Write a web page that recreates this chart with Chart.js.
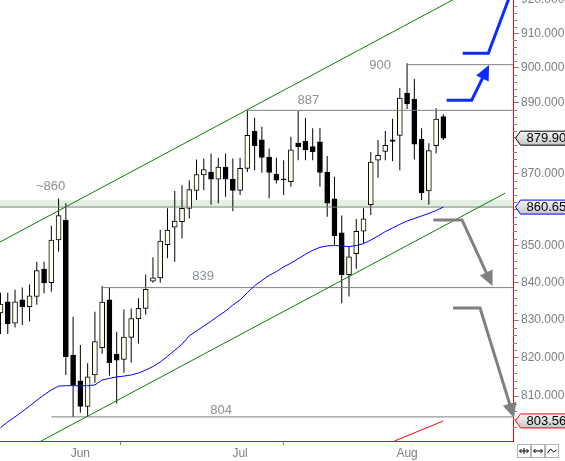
<!DOCTYPE html>
<html>
<head>
<meta charset="utf-8">
<script src="https://cdn.jsdelivr.net/npm/chart.js@4.4.1/dist/chart.umd.min.js"></script>
<style>
  html, body { margin: 0; padding: 0; background: #fff; }
  #wrap { width: 565px; height: 461px; }
</style>
</head>
<body>
<div id="wrap"><canvas id="chart" width="565" height="461"></canvas></div>
<script>
// daily candles (one per trading day)
const open = [831.9, 834.9, 829.2, 835.4, 833.6, 836.3, 843.6, 840.0, 851.6, 857.1,
              820.7, 814.0, 807.3, 815.5, 822.7, 835.4, 820.9, 819.6, 825.4, 830.4,
              833.1, 840.4, 841.3, 850.3, 855.1, 856.6, 860.3, 865.3, 869.6, 870.4,
              868.4, 871.8, 868.4, 865.3, 871.4, 881.8, 879.4, 874.6, 869.8, 868.5,
              867.7, 878.5, 879.1, 877.5, 878.9, 870.3, 862.9, 853.6, 842.2, 847.9,
              854.0, 861.3, 873.7, 876.2, 879.4, 880.7, 892.7, 891.0, 879.6, 865.1,
              877.8, 886.0];
const high = [837.3, 837.3, 838.1, 838.7, 839.5, 845.7, 845.7, 855.5, 863.0, 861.7,
              830.9, 823.4, 818.6, 832.2, 839.1, 838.7, 826.9, 832.8, 833.1, 835.8,
              842.2, 846.9, 854.4, 860.3, 865.1, 866.7, 868.1, 873.9, 874.2, 875.6,
              874.4, 875.6, 874.2, 874.4, 887.8, 885.7, 883.1, 877.0, 874.4, 873.7,
              880.3, 887.6, 885.6, 882.7, 882.8, 874.9, 869.1, 858.3, 849.8, 857.4,
              860.3, 876.0, 879.4, 881.9, 885.4, 894.2, 901.3, 896.8, 882.7, 878.5,
              888.4, 886.7];
const low = [826.3, 826.3, 828.0, 828.7, 829.6, 834.1, 837.2, 837.6, 848.4, 815.5,
             804.6, 805.7, 804.6, 813.5, 821.1, 815.3, 808.1, 816.1, 818.7, 823.8,
             831.4, 840.0, 840.0, 846.6, 845.7, 852.0, 857.5, 862.6, 865.3, 861.3,
             861.7, 863.5, 859.5, 864.0, 870.4, 870.9, 870.2, 863.1, 867.2, 864.0,
             866.3, 873.7, 873.7, 873.7, 866.3, 858.0, 850.3, 834.5, 836.3, 843.8,
             850.7, 858.5, 868.8, 873.7, 873.4, 870.9, 888.2, 873.9, 862.6, 861.3,
             875.6, 879.4];
const close = [834.3, 829.0, 834.9, 833.6, 836.5, 843.3, 840.0, 851.6, 858.3, 820.3,
               812.9, 807.3, 815.0, 824.3, 834.8, 818.7, 819.4, 825.5, 830.4, 833.1,
               838.2, 841.3, 851.3, 854.3, 856.8, 860.3, 865.5, 869.7, 871.1, 868.4,
               871.8, 868.4, 865.3, 871.4, 880.7, 877.8, 874.5, 870.3, 868.1, 868.2,
               876.6, 877.5, 876.6, 876.1, 870.3, 861.7, 852.8, 842.2, 847.0, 854.0,
               857.4, 873.2, 875.1, 877.9, 879.0, 891.3, 889.6, 878.2, 864.6, 876.4,
               885.3, 879.9];
// moving average (blue)
const ma = [801.8, 803.3, 804.6, 806.0, 807.4, 808.9, 810.3, 811.6, 812.6, 812.7,
            812.7, 812.7, 812.7, 812.9, 814.2, 814.6, 815.0, 815.2, 815.5, 816.0,
            816.8, 817.7, 818.9, 820.4, 822.0, 823.6, 825.8, 827.1, 828.4, 829.7,
            831.1, 832.4, 834.0, 835.4, 837.3, 839.2, 840.6, 842.0, 843.0, 844.3,
            845.3, 846.5, 847.7, 848.8, 849.6, 850.0, 850.1, 850.0, 849.8, 850.1,
            850.6, 851.6, 852.7, 853.9, 854.9, 855.9, 856.8, 857.5, 858.2, 858.9,
            859.7, 860.65];

const monthLabels = ['Jun', 'Jul', 'Aug'];
const monthStarts = [1, 22, 45];
const monthLabelAt = [11, 33, 56];
const priceTicks = [810, 820, 830, 840, 850, 860, 870, 880, 890, 900, 910, 920];

// horizontal levels and their notes
const levels = [900.9, 887.8, 860.65, 838.7, 804.6];
const levelFrom = [56, 34, -1, 14, 7];
const levelTexts = ['900', '887', '~860', '839', '804'];
const levelTextX = [52.3, 42.4, 6.9, 27.9, 30.4];
const levelTextY = [900.8, 890.7, 866.3, 841.8, 806.2];
const zoneTop = 862.6;

// trend channel and other drawn lines, [day, price]
const channelUpper = [[-0.5, 850.6], [64, 921.8]];
const channelLower = [[5, 797.8], [69.5, 864.5]];
const redLine = [[53.5, 797.8], [61, 803.56]];
const arrowPaths = [
  [[63.66, 904.2], [67.19, 904.2], [70.45, 922.7]],
  [[61.46, 890.7], [64.9, 890.7], [67.29, 900.8]],
  [[59.61, 857.1], [63.57, 857.1], [67.77, 839.1]],
  [[62.33, 833.2], [66.05, 833.2], [70.73, 804.3]]
];

const xMin = -0.069, xMax = 70.59;
const yMin = 798.4, yMax = 919.8;

Chart.defaults.font.family = '"Liberation Sans", Arial, sans-serif';

const days = open.map((_, i) => i);
const wicks = days.map(i => ({x: i, y: [low[i], high[i]]}));
const bodies = days.map(i => ({x: i, y: [Math.min(open[i], close[i]), Math.max(open[i], close[i])]}));
const bodyColors = days.map(i => close[i] >= open[i] ? '#ffffee' : '#000000');
const pts = arr => arr.map(p => ({x: p[0], y: p[1]}));

const lineDs = (data, color, width, order) => ({
  type: 'line', data: data, borderColor: color, borderWidth: width,
  pointRadius: 0, fill: false, tension: 0, order: order
});

const datasets = [
  {
    type: 'line', data: [{x: xMin, y: zoneTop}, {x: xMax, y: zoneTop}],
    borderWidth: 0, pointRadius: 0, fill: {value: levels[2]},
    backgroundColor: '#e3efe0', order: 10
  },
  {
    type: 'bar', data: wicks, backgroundColor: '#000', borderWidth: 0,
    barThickness: 1, grouped: false, inflateAmount: 0, order: 9
  },
  {
    type: 'bar', data: bodies, backgroundColor: bodyColors, borderColor: '#000',
    borderWidth: 1, borderSkipped: false, barThickness: 5, grouped: false, order: 8
  }
];
levels.forEach((v, i) => {
  datasets.push(lineDs([{x: levelFrom[i], y: v}, {x: xMax, y: v}], '#808080', 1, 5));
});
datasets.push(lineDs(days.map(i => ({x: i, y: ma[i]})), '#0000ff', 1, 4));
datasets.push(lineDs(pts(channelUpper), '#0c7d0c', 1, 3));
datasets.push(lineDs(pts(channelLower), '#0c7d0c', 1, 3));
datasets.push(lineDs(pts(redLine), '#ff0000', 1, 3));

function drawArrow(ctx, p, color, head) {
  const n = p.length;
  const end = p[n - 1];
  const dx = end[0] - p[n - 2][0], dy = end[1] - p[n - 2][1];
  const len = Math.hypot(dx, dy), ux = dx / len, uy = dy / len;
  const L = 15, W = 7;
  ctx.strokeStyle = color;
  ctx.fillStyle = color;
  ctx.lineWidth = 3;
  ctx.beginPath();
  ctx.moveTo(p[0][0], p[0][1]);
  for (let i = 1; i < n - 1; i++) ctx.lineTo(p[i][0], p[i][1]);
  if (head) ctx.lineTo(end[0] - ux * (L - 2), end[1] - uy * (L - 2));
  else ctx.lineTo(end[0], end[1]);
  ctx.stroke();
  if (head) {
    const bx = end[0] - ux * L, by = end[1] - uy * L;
    ctx.beginPath();
    ctx.moveTo(end[0], end[1]);
    ctx.lineTo(bx - uy * W, by + ux * W);
    ctx.lineTo(bx + uy * W, by - ux * W);
    ctx.closePath();
    ctx.fill();
  }
}

function drawTag(ctx, left, yPix, text, border) {
  const h = 7;
  ctx.beginPath();
  ctx.moveTo(left, yPix);
  ctx.lineTo(left + 5, yPix - h);
  ctx.lineTo(570, yPix - h);
  ctx.lineTo(570, yPix + h);
  ctx.lineTo(left + 5, yPix + h);
  ctx.closePath();
  const g = ctx.createLinearGradient(0, yPix - h, 0, yPix + h);
  g.addColorStop(0, '#f6f6f6');
  g.addColorStop(1, '#c6c6c6');
  ctx.fillStyle = g;
  ctx.fill();
  ctx.lineWidth = 1;
  ctx.strokeStyle = border;
  ctx.stroke();
  ctx.fillStyle = '#000';
  ctx.font = '13px "Liberation Sans", Arial, sans-serif';
  ctx.textAlign = 'left';
  ctx.textBaseline = 'middle';
  ctx.fillText(text, left + 11, yPix + 0.5);
}

const overlay = {
  id: 'overlay',
  afterDatasetsDraw(chart) {
    const {ctx, chartArea: a, scales: {x, y}} = chart;
    ctx.save();
    ctx.font = '13px "Liberation Sans", Arial, sans-serif';
    ctx.fillStyle = '#8a9099';
    ctx.textAlign = 'center';
    ctx.textBaseline = 'middle';
    levelTexts.forEach((t, i) => {
      ctx.fillText(t, x.getPixelForValue(levelTextX[i]), y.getPixelForValue(levelTextY[i]));
    });
    ctx.beginPath();
    ctx.rect(a.left, a.top, a.right - a.left + 3, a.bottom - a.top);
    ctx.clip();
    const colors = ['#0a2cff', '#0a2cff', '#808080', '#808080'];
    const heads = [false, true, true, true];
    arrowPaths.forEach((path, k) => {
      const p = path.map(q => [x.getPixelForValue(q[0]), y.getPixelForValue(q[1])]);
      drawArrow(ctx, p, colors[k], heads[k]);
    });
    ctx.restore();
  },
  afterDraw(chart) {
    const {ctx, chartArea: a, scales: {y}} = chart;
    ctx.save();
    // minor ticks on the price axis
    ctx.strokeStyle = '#808080';
    ctx.lineWidth = 1;
    for (let v = 800; v <= 920; v += 2) {
      if (v % 10 === 0) continue;
      const py = Math.round(y.getPixelForValue(v)) + 0.5;
      if (py < a.top || py > a.bottom) continue;
      ctx.beginPath();
      ctx.moveTo(a.right, py);
      ctx.lineTo(a.right + 4, py);
      ctx.stroke();
    }
    const last = close.length - 1;
    drawTag(ctx, a.right + 2.5, y.getPixelForValue(close[last]), close[last].toFixed(2), '#000000');
    drawTag(ctx, a.right + 2.5, y.getPixelForValue(ma[last]), ma[last].toFixed(2), '#0000ff');
    const r = redLine[redLine.length - 1][1];
    drawTag(ctx, a.right + 2.5, y.getPixelForValue(r), r.toFixed(2), '#ff0000');

    // little buttons under the price axis
    for (let k = 0; k < 3; k++) {
      const bx = a.right + 4.5 + k * 14, by = a.bottom + 3.5;
      ctx.strokeStyle = '#b4b4b4';
      ctx.fillStyle = '#ffffff';
      ctx.fillRect(bx, by, 13, 13);
      ctx.strokeRect(bx, by, 13, 13);
      ctx.strokeStyle = '#000';
      ctx.beginPath();
      const cy = by + 6.5;
      if (k < 2) {
        ctx.moveTo(bx + 2, cy); ctx.lineTo(bx + 11, cy);
        ctx.moveTo(bx + 4, cy - 2); ctx.lineTo(bx + 2, cy); ctx.lineTo(bx + 4, cy + 2);
        ctx.moveTo(bx + 9, cy - 2); ctx.lineTo(bx + 11, cy); ctx.lineTo(bx + 9, cy + 2);
        if (k === 0) { ctx.moveTo(bx + 6.5, cy - 3); ctx.lineTo(bx + 6.5, cy + 3); }
      } else {
        ctx.moveTo(bx + 2, cy + 2); ctx.lineTo(bx + 5, cy - 2);
        ctx.lineTo(bx + 8, cy + 1); ctx.lineTo(bx + 11, cy - 1);
      }
      ctx.stroke();
    }
    ctx.restore();
  }
};

const chart = new Chart(document.getElementById('chart').getContext('2d'), {
  type: 'bar',
  data: {datasets: datasets},
  plugins: [overlay],
  options: {
    responsive: false,
    animation: false,
    devicePixelRatio: 1,
    events: [],
    layout: {padding: 0},
    plugins: {
      legend: {display: false},
      tooltip: {enabled: false}
    },
    scales: {
      x: {
        type: 'linear', min: xMin, max: xMax, offset: false, bounds: 'data',
        afterBuildTicks: s => {
          s.ticks = monthStarts.concat(monthLabelAt).sort((a, b) => a - b).map(v => ({value: v}));
        },
        afterFit: s => { s.height = 20; s.paddingLeft = 0; s.paddingRight = 0; },
        ticks: {
          autoSkip: false, maxRotation: 0, padding: 1, color: '#7f7f7f',
          font: {size: 12},
          callback: v => {
            const k = monthLabelAt.indexOf(v);
            return k >= 0 ? monthLabels[k] : '';
          }
        },
        grid: {
          drawOnChartArea: false, drawTicks: true, tickLength: 4,
          tickColor: c => (c.tick && monthStarts.includes(c.tick.value)) ? '#808080' : 'rgba(0,0,0,0)'
        },
        border: {color: '#ff0000', width: 1}
      },
      y: {
        type: 'logarithmic', position: 'right', min: yMin, max: yMax, bounds: 'data',
        afterBuildTicks: s => { s.ticks = priceTicks.map(v => ({value: v})); },
        afterFit: s => { s.width = 52; s.paddingTop = 0; s.paddingBottom = 0; },
        ticks: {
          autoSkip: false, padding: 2, color: '#7f7f7f',
          font: {size: 12},
          callback: v => Number(v).toFixed(3)
        },
        grid: {drawOnChartArea: false, tickLength: 6, tickColor: '#808080'},
        border: {color: '#ff0000', width: 1}
      }
    }
  }
});
</script>
</body>
</html>
